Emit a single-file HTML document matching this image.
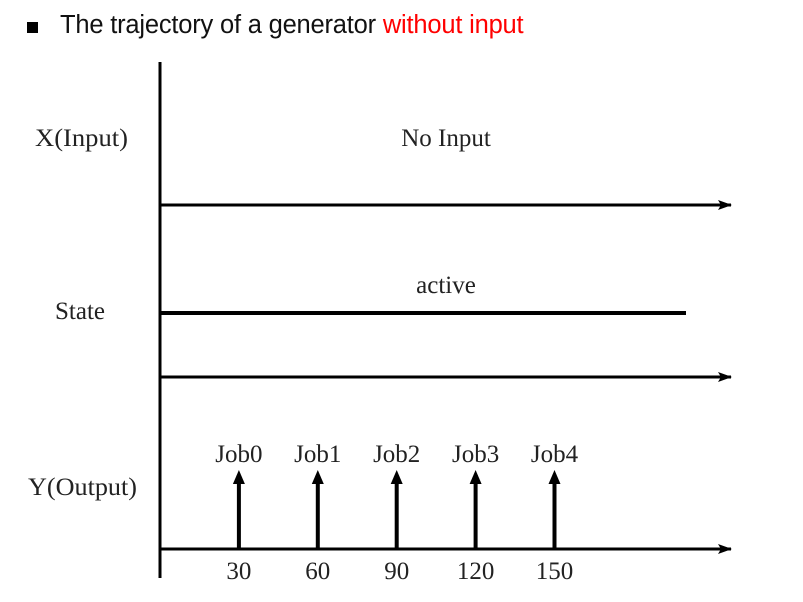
<!DOCTYPE html>
<html><head><meta charset="utf-8"><style>
body{margin:0;background:#fff;width:803px;height:602px;overflow:hidden;position:relative;font-family:"Liberation Sans",sans-serif}
#title{position:absolute;left:60px;top:11px;font-size:25.5px;color:#111;white-space:nowrap;letter-spacing:-0.2px}
#bullet{position:absolute;left:27px;top:22px;width:11px;height:11px;background:#000}
</style></head><body>
<div id="bullet"></div>
<div id="title">The trajectory of a generator <span style="color:#f00">without input</span></div>
<svg width="803" height="602" style="position:absolute;left:0;top:0">
<defs><marker id="ah" markerWidth="14" markerHeight="10" refX="13" refY="5" orient="auto" markerUnits="userSpaceOnUse"><path d="M0,0 L14,5 L0,10 L3,5 Z" fill="#000"/></marker></defs>
<g font-family="Liberation Serif, serif" font-size="25" fill="#222">
<line x1="160" y1="62" x2="160" y2="578" stroke="#000" stroke-width="3"/>
<text x="35" y="146" textLength="93" lengthAdjust="spacingAndGlyphs">X(Input)</text>
<text x="446" y="146" text-anchor="middle">No Input</text>
<line x1="160" y1="205" x2="731" y2="205" stroke="#000" stroke-width="3" marker-end="url(#ah)"/>
<text x="446" y="293" text-anchor="middle">active</text>
<text x="55" y="319">State</text>
<line x1="160" y1="313" x2="686" y2="313" stroke="#000" stroke-width="4"/>
<line x1="160" y1="377" x2="731" y2="377" stroke="#000" stroke-width="3" marker-end="url(#ah)"/>
<text x="28" y="495" textLength="109" lengthAdjust="spacingAndGlyphs">Y(Output)</text>
<line x1="160" y1="549" x2="731" y2="549" stroke="#000" stroke-width="3" marker-end="url(#ah)"/>
<g id="jobs"></g>
</g>
</svg>
<script>
const times=[30,60,90,120,150];
const jobs=["Job0","Job1","Job2","Job3","Job4"];
const tickLabels=["30","60","90","120","150"];
const xs=t=>160+t*2.63;
const g=document.getElementById('jobs');
const NS='http://www.w3.org/2000/svg';
times.forEach((t,i)=>{
 const x=xs(t);
 const l=document.createElementNS(NS,'line');
 l.setAttribute('x1',x);l.setAttribute('x2',x);l.setAttribute('y1',549);l.setAttribute('y2',475);
 l.setAttribute('stroke','#000');l.setAttribute('stroke-width','4');
 const p=document.createElementNS(NS,'path');
 p.setAttribute('d',`M${x-6},484 L${x},470 L${x+6},484 Z`);p.setAttribute('fill','#000');
 
 
 
 
 const jt=document.createElementNS(NS,'text');
 jt.setAttribute('x',x);jt.setAttribute('y',462);jt.setAttribute('text-anchor','middle');jt.textContent=jobs[i];
 
 
 const tt=document.createElementNS(NS,'text');
 tt.setAttribute('x',x);tt.setAttribute('y',579);tt.setAttribute('text-anchor','middle');tt.textContent=tickLabels[i];
 
 
 g.append(l,p,jt,tt);
});
</script>
</body></html>
